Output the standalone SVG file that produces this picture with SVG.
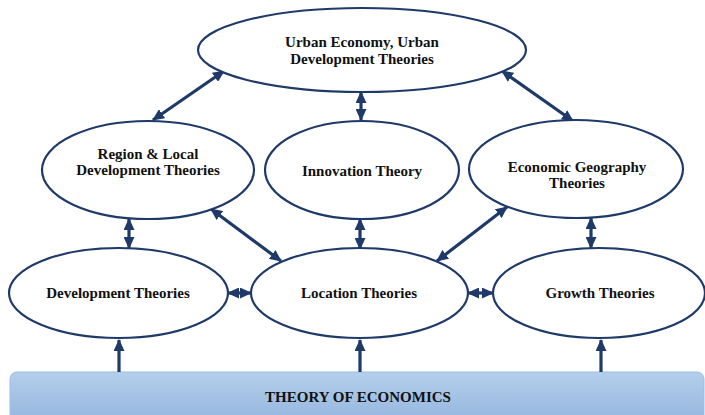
<svg xmlns="http://www.w3.org/2000/svg" width="705" height="415" viewBox="0 0 705 415">
<style>
.node ellipse{fill:#ffffff;stroke:#1f3a68;stroke-width:2.2}
text{font-family:'Liberation Serif','DejaVu Serif',serif;font-weight:700;font-size:15px;fill:#111111;text-anchor:middle}
.conn line{stroke:#1f3a68;stroke-width:3.2;fill:none}
</style>
<defs>
<marker id="ah" markerUnits="userSpaceOnUse" markerWidth="12" markerHeight="11" refX="11" refY="5.5" orient="auto-start-reverse">
<path d="M0,0 L12,5.5 L0,11 z" fill="#1f3a68"/>
</marker>
<linearGradient id="bg" x1="0" y1="0" x2="0" y2="1">
<stop offset="0" stop-color="#b4cfeb"/>
<stop offset="1" stop-color="#8fb1dc"/>
</linearGradient>
</defs>
<rect width="705" height="415" fill="#ffffff"/>

<g id="base">
<rect x="10" y="372" width="694" height="60" rx="7" fill="url(#bg)" stroke="#9dbde3" stroke-width="1"/>
<text font-family="Liberation Serif, serif" x="358" y="402">THEORY OF ECONOMICS</text>
</g>

<g id="connectors" class="conn">
<line x1="119" y1="372" x2="119" y2="340" marker-end="url(#ah)"/>
<line x1="360" y1="372" x2="360" y2="340" marker-end="url(#ah)"/>
<line x1="601" y1="372" x2="601" y2="340" marker-end="url(#ah)"/>
<line x1="228" y1="293" x2="251" y2="293" marker-start="url(#ah)" marker-end="url(#ah)"/>
<line x1="468" y1="293" x2="493" y2="293" marker-start="url(#ah)" marker-end="url(#ah)"/>
<line x1="129" y1="219" x2="129" y2="248" marker-start="url(#ah)" marker-end="url(#ah)"/>
<line x1="360" y1="219" x2="360" y2="249" marker-start="url(#ah)" marker-end="url(#ah)"/>
<line x1="591" y1="218" x2="591" y2="248" marker-start="url(#ah)" marker-end="url(#ah)"/>
<line x1="361" y1="92" x2="361" y2="120" marker-start="url(#ah)" marker-end="url(#ah)"/>
<line x1="153" y1="120" x2="224" y2="71" marker-start="url(#ah)" marker-end="url(#ah)"/>
<line x1="502" y1="71" x2="573" y2="121" marker-start="url(#ah)" marker-end="url(#ah)"/>
<line x1="211" y1="209" x2="281" y2="261" marker-start="url(#ah)" marker-end="url(#ah)"/>
<line x1="507" y1="207" x2="437" y2="261" marker-start="url(#ah)" marker-end="url(#ah)"/>
</g>

<g id="urban" class="node">
<ellipse cx="362" cy="50" rx="164" ry="42"/>
<text x="362" y="47">Urban Economy, Urban</text>
<text x="362" y="64">Development Theories</text>
</g>
<g id="region" class="node">
<ellipse cx="148" cy="170" rx="106" ry="49"/>
<text x="148" y="159">Region &amp; Local</text>
<text x="148" y="175">Development Theories</text>
</g>
<g id="innovation" class="node">
<ellipse cx="362" cy="170" rx="97" ry="49"/>
<text x="362" y="176">Innovation Theory</text>
</g>
<g id="geography" class="node">
<ellipse cx="576" cy="169" rx="107" ry="49"/>
<text x="577" y="172">Economic Geography</text>
<text x="577" y="188">Theories</text>
</g>
<g id="development" class="node">
<ellipse cx="118.5" cy="293" rx="109.5" ry="45"/>
<text x="118" y="298">Development Theories</text>
</g>
<g id="location" class="node">
<ellipse cx="359.5" cy="293" rx="108.5" ry="45"/>
<text x="359" y="298">Location Theories</text>
</g>
<g id="growth" class="node">
<ellipse cx="599" cy="293" rx="106" ry="45"/>
<text x="600" y="298">Growth Theories</text>
</g>
</svg>
